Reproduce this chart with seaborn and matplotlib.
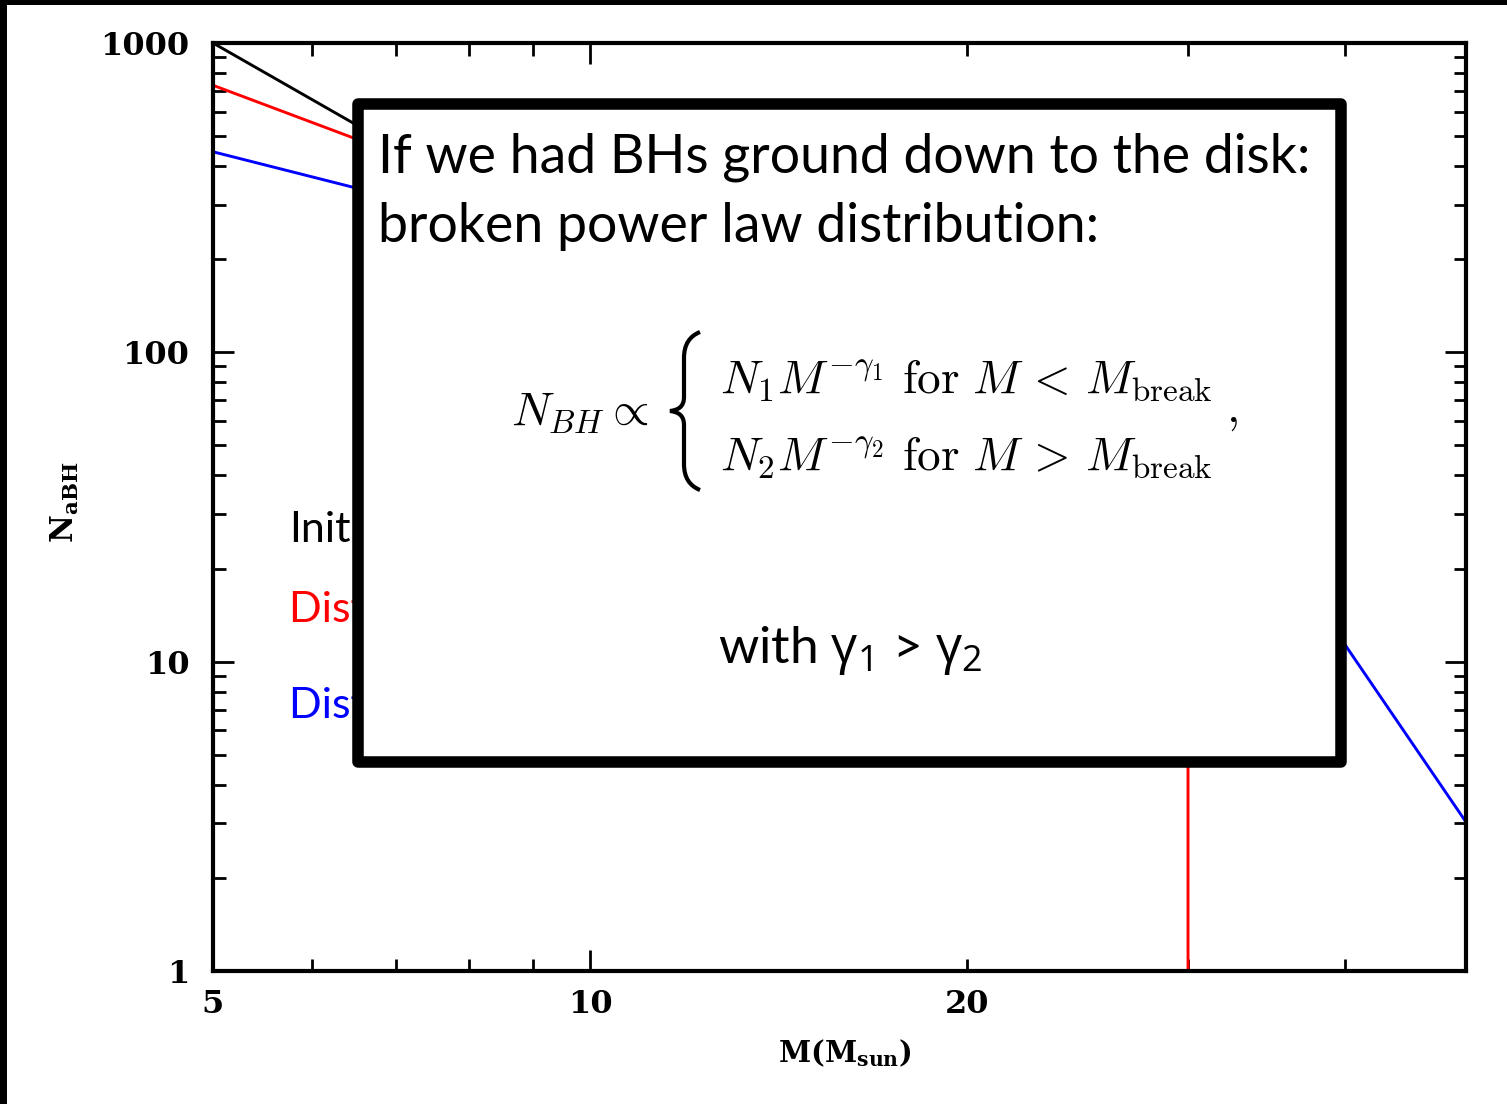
import matplotlib
matplotlib.use('Agg')
import matplotlib.pyplot as plt
from matplotlib.patches import Rectangle, PathPatch
from matplotlib.path import Path
from matplotlib.ticker import FixedLocator, FuncFormatter, LogLocator, NullFormatter
import seaborn as sns
import pandas as pd

# data (parts behind the box are estimated)
mass_initial = [5, 6.5, 10, 15, 25]
n_initial = [1000, 545, 200, 78, 23]
mass_red = [5, 6.5, 10, 20, 30, 30]
n_red = [730, 490, 250, 45, 10, 0.5]
mass_blue = [5, 6.5, 10, 20, 40, 50]
n_blue = [445, 340, 210, 65, 11.4, 3.03]

legend_labels = ['Initial', 'Distribution 1', 'Distribution 2']
legend_colors = ['black', 'red', 'blue']
xtick_major = [5, 10]
xtick_minor = [6, 7, 8, 9, 20, 30, 40]

W, H = 1507, 1104

def fx(px):
    return px / W

def fy(py):
    return 1 - py / H

sns.set_theme(style='ticks', rc={'text.color': 'black', 'axes.labelcolor': 'black',
                                 'xtick.color': 'black', 'ytick.color': 'black',
                                 'axes.edgecolor': 'black'})
plt.rcParams['font.family'] = ['Lato', 'DejaVu Sans']
plt.rcParams['mathtext.fontset'] = 'custom'
plt.rcParams['mathtext.rm'] = 'Open Sans'
plt.rcParams['mathtext.it'] = 'Open Sans'

fig = plt.figure(figsize=(W / 100, H / 100), dpi=100)
ax = fig.add_axes([fx(213), fy(971), fx(1466) - fx(213), fy(43) - fy(971)])

# 3 series
for xs, ys, c in zip([mass_initial, mass_red, mass_blue], [n_initial, n_red, n_blue], legend_colors):
    df = pd.DataFrame({'M': xs, 'N': ys})
    sns.lineplot(data=df, x='M', y='N', sort=False, estimator=None, color=c, lw=2.1, ax=ax)

ax.set_xscale('log')
ax.set_yscale('log')
ax.set_xlim(5, 50)
ax.set_ylim(1, 1000)

ax.xaxis.set_major_locator(FixedLocator(xtick_major))
ax.xaxis.set_minor_locator(FixedLocator(xtick_minor))
ax.xaxis.set_major_formatter(FuncFormatter(lambda v, p: '%g' % v))
ax.xaxis.set_minor_formatter(FuncFormatter(lambda v, p: '20' if v == 20 else ''))
ax.yaxis.set_major_locator(LogLocator(base=10))
ax.yaxis.set_minor_locator(LogLocator(base=10, subs=range(2, 10)))
ax.yaxis.set_minor_formatter(NullFormatter())
ax.yaxis.set_major_formatter(FuncFormatter(lambda v, p: '%g' % v))

ax.tick_params(which='both', direction='in', top=True, right=True, width=2, color='black')
ax.tick_params(which='major', length=15)
ax.tick_params(which='minor', length=9)
ax.tick_params(axis='y', which='major', pad=17, labelsize=23)
ax.tick_params(axis='x', which='both', pad=13, labelsize=23)
for lab in ax.get_xticklabels(which='both') + ax.get_yticklabels():
    lab.set_fontfamily('DejaVu Serif')
    lab.set_fontweight('bold')
for sp in ax.spines.values():
    sp.set_linewidth(3)
    sp.set_color('black')

ax.set_xlabel('')
ax.set_ylabel('')
fig.text(fx(845), fy(1053), r'$\mathbf{M(M_{sun})}$', math_fontfamily='dejavuserif',
         fontsize=21, ha='center', va='center')
fig.text(fx(65), fy(502), r'$\mathbf{N_{aBH}}$', math_fontfamily='dejavuserif',
         fontsize=22, ha='center', va='center', rotation=90)

# legend texts (mostly hidden by the box)
for lab, c, base in zip(legend_labels, legend_colors, [542, 622, 718]):
    fig.text(fx(289), fy(base), lab, color=c, fontsize=31, va='baseline', ha='left')

# black frame of the slide
fig.patches.append(Rectangle((0, fy(5)), 1, fy(0) - fy(5), transform=fig.transFigure,
                             facecolor='black', edgecolor='none', zorder=10))
fig.patches.append(Rectangle((0, 0), fx(7), 1, transform=fig.transFigure,
                             facecolor='black', edgecolor='none', zorder=10))

# white box with thick border
box = Rectangle((fx(358), fy(762)), fx(1341) - fx(358), fy(104) - fy(762), transform=fig.transFigure,
                facecolor='white', edgecolor='black', lw=8.3, joinstyle='round', zorder=5)
fig.patches.append(box)

fig.text(fx(378), fy(172), 'If we had BHs ground down to the disk:', fontsize=38.6,
         va='baseline', ha='left', zorder=6)
fig.text(fx(378), fy(242), 'broken power law distribution:', fontsize=38.6,
         va='baseline', ha='left', zorder=6)

# formula
fs = 34
fig.text(fx(511), fy(425), r'$N_{BH}\propto$', math_fontfamily='cm', fontsize=fs,
         va='baseline', ha='left', zorder=6)
fig.text(fx(720), fy(393), r'$N_1M^{-\gamma_1}\ \mathrm{for}\ M\, <\, M_{\mathrm{break}}$',
         math_fontfamily='cm', fontsize=fs, va='baseline', ha='left', zorder=6)
fig.text(fx(720), fy(470), r'$N_2M^{-\gamma_2}\ \mathrm{for}\ M\, >\, M_{\mathrm{break}}$',
         math_fontfamily='cm', fontsize=fs, va='baseline', ha='left', zorder=6)
fig.text(fx(1226), fy(422), r'$,$', math_fontfamily='cm', fontsize=fs,
         va='baseline', ha='left', zorder=6)

# curly brace
bx, top, mid, bot = 684, 332, 411, 490
verts = [(700, top), (690, top + 4), (bx, top + 12), (bx, top + 26),
         (bx, mid - 14),
         (bx, mid - 4), (678, mid - 1), (670, mid),
         (678, mid + 1), (bx, mid + 4), (bx, mid + 14),
         (bx, bot - 26),
         (bx, bot - 12), (690, bot - 4), (700, bot)]
codes = [Path.MOVETO, Path.CURVE4, Path.CURVE4, Path.CURVE4,
         Path.LINETO,
         Path.CURVE4, Path.CURVE4, Path.CURVE4,
         Path.CURVE4, Path.CURVE4, Path.CURVE4,
         Path.LINETO,
         Path.CURVE4, Path.CURVE4, Path.CURVE4]
brace = Path([(fx(a), fy(b)) for a, b in verts], codes)
fig.patches.append(PathPatch(brace, transform=fig.transFigure, facecolor='none',
                             edgecolor='black', lw=3, zorder=6))

fig.text(fx(718), fy(663), r'with $\gamma_1$ > $\gamma_2$', fontsize=37,
         va='baseline', ha='left', zorder=6)

plt.savefig('out.png', dpi=100)
